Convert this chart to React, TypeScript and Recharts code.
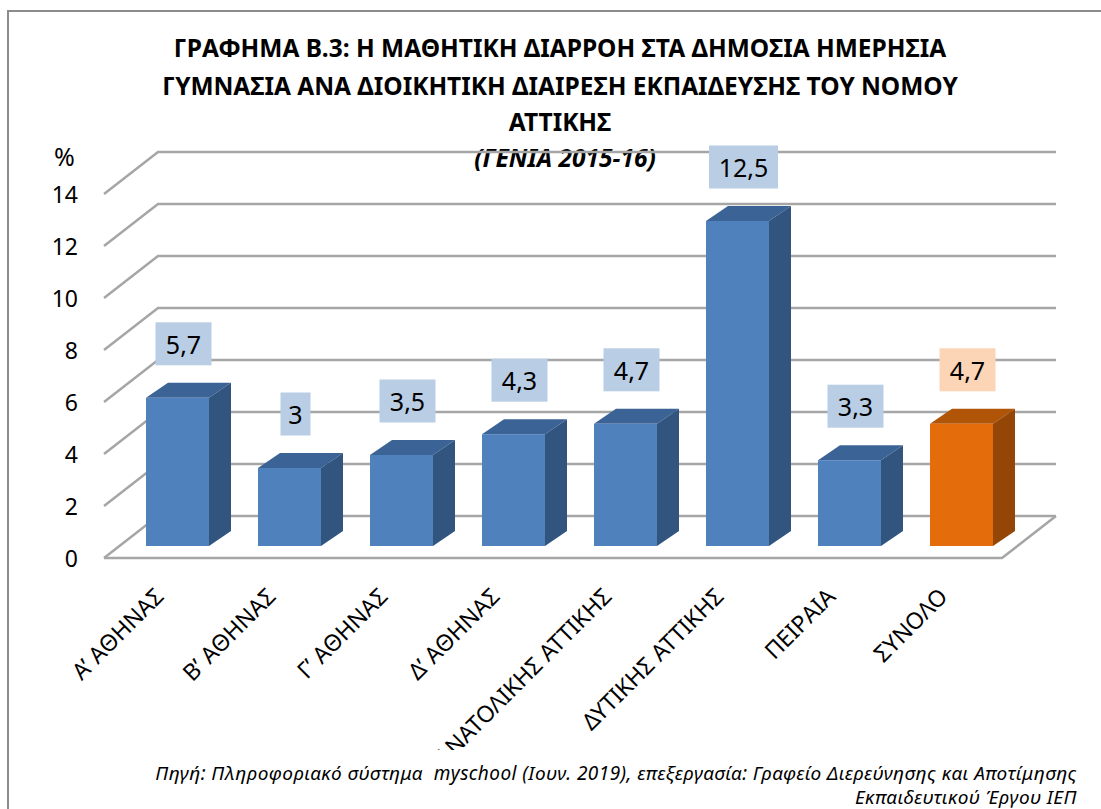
import { BarChart, Bar, XAxis, YAxis, CartesianGrid, Cell, LabelList } from "recharts";

const districts = [
  "Α’ ΑΘΗΝΑΣ",
  "Β’ ΑΘΗΝΑΣ",
  "Γ’ ΑΘΗΝΑΣ",
  "Δ’ ΑΘΗΝΑΣ",
  "ΑΝΑΤΟΛΙΚΗΣ ΑΤΤΙΚΗΣ",
  "ΔΥΤΙΚΗΣ ΑΤΤΙΚΗΣ",
  "ΠΕΙΡΑΙΑ",
  "ΣΥΝΟΛΟ",
];
const dropout = [5.7, 3, 3.5, 4.3, 4.7, 12.5, 3.3, 4.7];
const yTicks = [0, 2, 4, 6, 8, 10, 12, 14];

const data = districts.map((name, i) => ({ name, value: dropout[i] }));

const FONT = "'Noto Sans', 'Open Sans', sans-serif";
const W = 1101;
const H = 750;
const MARGIN = { top: 182, right: 84, bottom: 174, left: 61 };
const X_AXIS_H = 30;
const PLOT_BOTTOM = H - MARGIN.bottom - X_AXIS_H;

// depth of the "room" (front edge -> back wall) and of each bar
const FRONT_DY = 12;
const BACK_DY = -30;
const BAR_DX = 22;
const BAR_DY = 15;
const GRID = "#a6a6a6";

const BLUE = { front: "#4f81bd", top: "#3c6396", side: "#32557f", label: "#b9cde5" };
const ORANGE = { front: "#e46c0a", top: "#b05508", side: "#934606", label: "#fbd5b5" };

function GridLine(p: any) {
  const y = p.y1;
  const fx = p.x1 - 17;
  const bx = p.x1 + 37;
  const rx = p.x2 + 39;
  const fy = y + FRONT_DY;
  const by = y + BACK_DY;
  const isFloor = Math.abs(y - PLOT_BOTTOM) < 1;
  return (
    <g key={p.key}>
      <polyline points={`${fx},${fy} ${bx},${by} ${rx},${by}`} fill="none" stroke={GRID} strokeWidth={2.5} />
      {isFloor && (
        <polyline
          points={`${fx},${fy} ${rx - 54},${fy} ${rx},${by}`}
          fill="none"
          stroke={GRID}
          strokeWidth={2.5}
        />
      )}
    </g>
  );
}

function YTick({ y, payload }: any) {
  return (
    <text x={78} y={y + FRONT_DY} textAnchor="end" dominantBaseline="central" fontSize={23} fill="#000" fontFamily={FONT}>
      {payload.value}
    </text>
  );
}

function XTick({ x, payload }: any) {
  const ax = x - 12;
  const ay = 598;
  return (
    <text x={ax} y={ay} transform={`rotate(-45, ${ax}, ${ay})`} textAnchor="end" fontSize={23} fill="#000" fontFamily={FONT}>
      {payload.value}
    </text>
  );
}

function Bar3D(props: any) {
  const { x, y, width, height, index } = props;
  const c = index === districts.length - 1 ? ORANGE : BLUE;
  const r = x + width;
  const b = y + height;
  return (
    <g>
      <polygon points={`${x},${y} ${r},${y} ${r + BAR_DX},${y - BAR_DY} ${x + BAR_DX},${y - BAR_DY}`} fill={c.top} />
      <polygon points={`${r},${y} ${r + BAR_DX},${y - BAR_DY} ${r + BAR_DX},${b - BAR_DY} ${r},${b}`} fill={c.side} />
      <rect x={x} y={y} width={width} height={height} fill={c.front} />
    </g>
  );
}

function ValueLabel(props: any) {
  const { x, y, width, value, index } = props;
  const c = index === districts.length - 1 ? ORANGE : BLUE;
  const txt = String(value).replace(".", ",");
  const bw = 17 + 13 * txt.length;
  const bh = 43;
  const cx = x + width / 2 + 6;
  const cy = y - 54;
  return (
    <g>
      <rect x={cx - bw / 2} y={cy - bh / 2} width={bw} height={bh} fill={c.label} />
      <text x={cx} y={cy} textAnchor="middle" dominantBaseline="central" fontSize={25} fill="#000" fontFamily={FONT}>
        {txt}
      </text>
    </g>
  );
}

const titleStyle: React.CSSProperties = {
  position: "absolute",
  left: 0,
  width: 1120,
  textAlign: "center",
  fontWeight: 700,
  fontSize: 24.5,
  lineHeight: "30px",
  color: "#000",
  whiteSpace: "nowrap",
};

export default function App() {
  return (
    <div style={{ position: "absolute", left: 0, top: 0, width: W, height: 809, background: "#fff", fontFamily: FONT, overflow: "hidden" }}>
      <div style={{ position: "absolute", left: 7, top: 10, width: 1200, height: 900, borderLeft: "2px solid #8c8c8c", borderTop: "2px solid #8c8c8c" }} />
      <div style={{ ...titleStyle, top: 33 }}>ΓΡΑΦΗΜΑ Β.3: Η ΜΑΘΗΤΙΚΗ ΔΙΑΡΡΟΗ ΣΤΑ ΔΗΜΟΣΙΑ ΗΜΕΡΗΣΙΑ</div>
      <div style={{ ...titleStyle, top: 71 }}>ΓΥΜΝΑΣΙΑ ΑΝΑ ΔΙΟΙΚΗΤΙΚΗ ΔΙΑΙΡΕΣΗ ΕΚΠΑΙΔΕΥΣΗΣ ΤΟΥ ΝΟΜΟΥ</div>
      <div style={{ ...titleStyle, top: 107 }}>ΑΤΤΙΚΗΣ</div>
      <div style={{ ...titleStyle, top: 143, width: 1130, fontStyle: "italic" }}>(ΓΕΝΙΑ 2015-16)</div>
      <div style={{ position: "absolute", left: 54, top: 139, fontSize: 25, color: "#000" }}>%</div>
      <div style={{ position: "absolute", left: 0, top: 0 }}>
        <BarChart width={W} height={H} data={data} margin={MARGIN}>
          <CartesianGrid vertical={false} horizontal={(p: any) => <GridLine {...p} />} />
          <YAxis domain={[0, 14]} ticks={yTicks} width={60} axisLine={false} tickLine={false} tick={<YTick />} interval={0} />
          <XAxis dataKey="name" height={X_AXIS_H} axisLine={false} tickLine={false} tick={<XTick />} interval={0} />
          <Bar dataKey="value" barSize={63} shape={<Bar3D />} isAnimationActive={false}>
            {data.map((d, i) => (
              <Cell key={d.name} fill={i === data.length - 1 ? ORANGE.front : BLUE.front} />
            ))}
            <LabelList dataKey="value" content={<ValueLabel />} />
          </Bar>
        </BarChart>
      </div>
      <div
        style={{
          position: "absolute",
          right: 24,
          top: 761,
          fontSize: 19,
          letterSpacing: 0.45,
          fontStyle: "italic",
          lineHeight: "24px",
          textAlign: "right",
          color: "#000",
          whiteSpace: "nowrap",
        }}
      >
        Πηγή: Πληροφοριακό σύστημα&nbsp; myschool (Ιουν. 2019), επεξεργασία: Γραφείο Διερεύνησης και Αποτίμησης
        <br />
        Εκπαιδευτικού Έργου ΙΕΠ
      </div>
    </div>
  );
}
